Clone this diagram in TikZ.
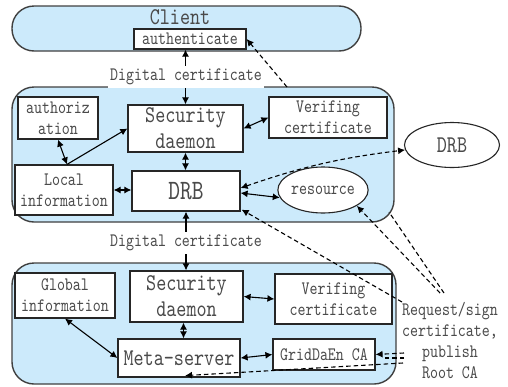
\documentclass[tikz,border=0pt]{standalone}
\usepackage{fontspec}
\newfontfamily\simfont[FakeStretch=0.8]{lmmono10-regular.otf}
\usetikzlibrary{arrows.meta,shapes.geometric,calc}
\definecolor{hostblue}{HTML}{CCEAFB}
\definecolor{ink}{HTML}{4A4A4A}
\tikzset{
  tip/.tip={Latex[length=7pt,width=7pt]},
  host/.style={draw=black!75, line width=1.4pt, fill=hostblue, rounded corners=22pt},
  unit/.style={draw=black!85, line width=1.2pt, fill=white, inner sep=0pt, align=center, text=ink},
  oval/.style={ellipse, draw=black!85, line width=1.1pt, fill=white, inner sep=0pt, text=ink},
  small/.style={font=\simfont\fontsize{19}{21}\selectfont},
  big/.style={font=\simfont\fontsize{24}{26}\selectfont},
  huge/.style={font=\simfont\fontsize{28}{28}\selectfont},
  tag/.style={small, text=ink, fill=white, inner xsep=2pt, inner ysep=3pt},
  dbl/.style={tip-tip, line width=1.1pt},
  sgl/.style={-tip, line width=1.1pt},
  dsh/.style={line width=1.1pt, dash pattern=on 4.5pt off 3pt},
}
\begin{document}
\begin{tikzpicture}[x=1pt,y=-1pt]
\useasboundingbox (0,0) rectangle (508,386);

% three hosts
\node[host, minimum width=349pt, minimum height=45pt] (client) at (186.5,28.5) {};
\node[host, minimum width=382pt, minimum height=135pt] (node) at (203,154.5) {};
\node[host, minimum width=384pt, minimum height=121pt] (info) at (204,323.5) {};

\node[big, text=ink] (clientlbl) at (180,17) {Client};
\node[unit, small, minimum width=112pt, minimum height=20pt] (auth) at (190,39) {authenticate};

% resource node
\node[unit, small, minimum width=80pt, minimum height=42pt] (authz) at (58,118) {authoriz\\ation};
\node[unit, big, minimum width=115pt, minimum height=47pt] (sec1) at (185.5,128.5) {Security\\daemon};
\node[unit, small, minimum width=118pt, minimum height=41pt] (ver1) at (328,117.5) {Verifing\\certificate};
\node[unit, small, minimum width=98pt, minimum height=50pt] (local) at (64,190) {Local\\information};
\node[unit, huge, minimum width=108pt, minimum height=40pt] (drb) at (186,191) {DRB};
\node[oval, small, minimum width=88pt, minimum height=46pt] (res) at (323,190) {resource};
\node[oval, big, minimum width=95pt, minimum height=45pt] (drbx) at (452,145) {DRB};

% information server
\node[unit, small, minimum width=100pt, minimum height=45pt] (glob) at (65,295.5) {Global\\information};
\node[unit, big, minimum width=113pt, minimum height=51pt] (sec2) at (186.5,296.5) {Security\\daemon};
\node[unit, small, minimum width=117pt, minimum height=50pt] (ver2) at (333.5,299) {Verifing\\certificate};
\node[unit, big, minimum width=122pt, minimum height=38pt] (meta) at (179,358) {Meta-server};
\node[unit, small, minimum width=102pt, minimum height=31pt] (ca) at (324,354.5) {GridDaEn CA};

\node[small, text=ink, align=center, inner sep=0pt] (req) at (450,341) {Request/sign\\certificate,\\publish\\Root CA};

% solid links
\draw[dbl] (sec1.north |- auth.south) -- (sec1.north);
\draw[dbl] (drb.south) -- (drb.south |- sec2.north);
\draw[dbl] (sec1.south) -- (sec1.south |- drb.north);
\draw[dbl] (local.east) -- (local.east -| drb.west);
\coordinate (lt) at ($(local.north)+(3,0)$);
\draw[dbl] (authz.south) -- (lt);
\draw[sgl] (lt) -- (sec1.west);
\draw[dbl] (sec1.east) -- (ver1.west);
\draw[dbl] ($(drb.east)+(0,2)$) -- (res.190);
\draw[dbl] ($(sec2.south)+(-3,0)$) -- ($(sec2.south |- meta.north)+(-3,0)$);
\draw[dbl] (glob.south) -- (meta.west);
\draw[dbl] (sec2.east) -- (ver2.west);
\draw[dbl] (meta.east) -- (ca.west);

% dashed requests
\coordinate (mtop) at (287,87);
\coordinate (rq1) at (402,302);
\coordinate (rq2) at (440,293);
\coordinate (rq3) at (444,293);
\coordinate (rcorner) at (389,212);
\coordinate (rq4) at (404,353);
\coordinate (rq5) at (404,358);
\coordinate (rq6) at (403,363);
\draw[dsh, -tip] (mtop) -- (auth.east);
\draw[dsh, tip-tip] ($(drb.east)+(0,-3)$) to[bend left=6] (drbx.186);
\draw[dsh, -tip] (rq1) -- ($(drb.south east)+(1,-2)$);
\draw[dsh, -tip] (rq2) -- (res.-25);
\draw[dsh] (rq3) -- (rcorner);
\draw[dsh, -tip] (rq4) -- (ca.east);
\draw[dsh] (rq5) -- ($(ca.east)+(8,3.5)$);
\draw[dsh, -tip] (rq6) -- ($(meta.south)+(6,-2)$);

% certificate labels, drawn last so they break the lines beneath
\node[tag] (cert1) at (186,77) {Digital certificate};
\node[tag] (cert2) at (186,243) {Digital certificate};
\end{tikzpicture}
\end{document}
